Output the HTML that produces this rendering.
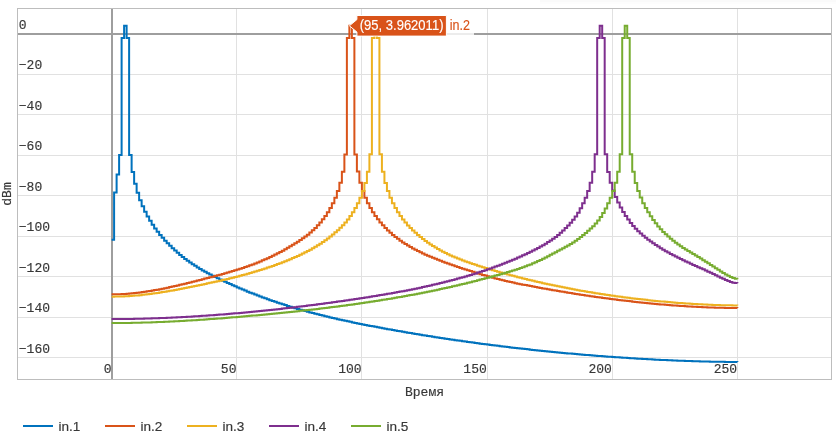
<!DOCTYPE html>
<html lang="ru">
<head>
<meta charset="utf-8">
<title>dBm</title>
<style>
html,body{margin:0;padding:0;background:#fff;}
body{width:836px;height:436px;overflow:hidden;}
svg{display:block;}
.tick{font-family:"Liberation Mono", "DejaVu Sans Mono", monospace;font-size:13px;fill:#383838;stroke:#383838;stroke-width:0.16px;}
.leg{font-family:"Liberation Sans", "DejaVu Sans", sans-serif;font-size:13.6px;fill:#383838;}
.leg text{stroke:#383838;stroke-width:0.16px;}
.hov{font-family:"Liberation Sans", "DejaVu Sans", sans-serif;font-size:14.4px;}
.hov text{stroke-width:0.15px;}
</style>
</head>
<body>
<svg width="836" height="436" viewBox="0 0 836 436">
<rect x="0" y="0" width="836" height="436" fill="#fff"/>
<rect x="540" y="0" width="296" height="2" fill="#fafafa"/>
<rect x="540" y="2" width="296" height="2" fill="#fdfdfd"/>
<g shape-rendering="crispEdges" stroke="#e1e1e1" stroke-width="1" fill="none">
<path d="M236.5,8.5V379.5"/>
<path d="M361.5,8.5V379.5"/>
<path d="M487.5,8.5V379.5"/>
<path d="M612.5,8.5V379.5"/>
<path d="M737.5,8.5V379.5"/>
<path d="M17.5,74.5H831.5"/>
<path d="M17.5,114.5H831.5"/>
<path d="M17.5,155.5H831.5"/>
<path d="M17.5,195.5H831.5"/>
<path d="M17.5,236.5H831.5"/>
<path d="M17.5,276.5H831.5"/>
<path d="M17.5,317.5H831.5"/>
<path d="M17.5,357.5H831.5"/>
</g>
<g shape-rendering="crispEdges" stroke="#9e9e9e" stroke-width="2" fill="none">
<path d="M112,8.5V379.5"/>
<path d="M17.5,34H831.5"/>
</g>
<rect x="17.5" y="8.5" width="814" height="371" fill="none" stroke="#bdbdbd" stroke-width="1" shape-rendering="crispEdges"/>
<g fill="none" stroke-width="2" stroke-linejoin="miter" stroke-linecap="butt">
<path stroke="#0072BD" d="M111.6,239.8H114.1V192.5H116.61V174.6H119.11V154.88H121.61V38H124.11V25.68H126.62V38H129.12V154.98H131.62V172.09H134.13V183.84H136.63V192.84H139.13V200.16H141.64V206.36H144.14V211.75H146.64V216.54H149.14V220.86H151.65V224.79H154.15V228.42H156.65V231.78H159.16V234.92H161.66V237.87H164.16V240.66H166.67V243.32H169.17V245.86H171.67V248.28H174.18V250.59H176.68V252.81H179.18V254.93H181.68V256.96H184.19V258.9H186.69V260.76H189.19V262.53H191.7V264.23H194.2V265.86H196.7V267.43H199.2V268.94H201.71V270.39H204.21V271.8H206.71V273.16H209.22V274.49H211.72V275.77H214.22V277.03H216.73V278.26H219.23V279.47H221.73V280.66H224.24V281.83H226.74V282.98H229.24V284.12H231.74V285.24H234.25V286.35H236.75V287.44H239.25V288.51H241.76V289.56H244.26V290.6H246.76V291.63H249.27V292.63H251.77V293.62H254.27V294.6H256.77V295.56H259.28V296.5H261.78V297.43H264.28V298.35H266.79V299.24H269.29V300.13H271.79V300.99H274.29V301.85H276.8V302.69H279.3V303.51H281.8V304.32H284.31V305.12H286.81V305.9H289.31V306.67H291.82V307.43H294.32V308.17H296.82V308.91H299.33V309.63H301.83V310.33H304.33V311.03H306.83V311.72H309.34V312.39H311.84V313.05H314.34V313.71H316.85V314.35H319.35V314.98H321.85V315.6H324.36V316.22H326.86V316.82H329.36V317.41H331.86V318H334.37V318.58H336.87V319.14H339.37V319.71H341.88V320.26H344.38V320.8H346.88V321.34H349.38V321.87H351.89V322.39H354.39V322.91H356.89V323.42H359.4V323.93H361.9V324.43H364.4V324.92H366.91V325.41H369.41V325.89H371.91V326.37H374.41V326.84H376.92V327.31H379.42V327.78H381.92V328.24H384.43V328.7H386.93V329.15H389.43V329.6H391.94V330.05H394.44V330.49H396.94V330.93H399.45V331.37H401.95V331.8H404.45V332.23H406.95V332.66H409.46V333.09H411.96V333.51H414.46V333.92H416.97V334.34H419.47V334.75H421.97V335.16H424.48V335.56H426.98V335.96H429.48V336.36H431.98V336.75H434.49V337.14H436.99V337.53H439.49V337.91H442V338.3H444.5V338.67H447V339.05H449.5V339.42H452.01V339.79H454.51V340.15H457.01V340.51H459.52V340.87H462.02V341.23H464.52V341.58H467.03V341.93H469.53V342.27H472.03V342.62H474.53V342.96H477.04V343.29H479.54V343.63H482.04V343.96H484.55V344.28H487.05V344.61H489.55V344.93H492.06V345.25H494.56V345.56H497.06V345.87H499.57V346.18H502.07V346.49H504.57V346.79H507.07V347.09H509.58V347.38H512.08V347.68H514.58V347.97H517.09V348.25H519.59V348.54H522.09V348.82H524.6V349.1H527.1V349.37H529.6V349.65H532.1V349.91H534.61V350.18H537.11V350.44H539.61V350.7H542.12V350.96H544.62V351.22H547.12V351.47H549.62V351.72H552.13V351.96H554.63V352.21H557.13V352.45H559.64V352.68H562.14V352.92H564.64V353.15H567.15V353.38H569.65V353.6H572.15V353.83H574.65V354.05H577.16V354.26H579.66V354.48H582.16V354.69H584.67V354.9H587.17V355.11H589.67V355.31H592.18V355.51H594.68V355.71H597.18V355.9H599.69V356.09H602.19V356.28H604.69V356.47H607.19V356.65H609.7V356.84H612.2V357.01H614.7V357.19H617.21V357.36H619.71V357.53H622.21V357.7H624.72V357.87H627.22V358.03H629.72V358.19H632.22V358.35H634.73V358.5H637.23V358.65H639.73V358.8H642.24V358.95H644.74V359.09H647.24V359.23H649.75V359.36H652.25V359.5H654.75V359.63H657.25V359.76H659.76V359.88H662.26V360H664.76V360.12H667.27V360.23H669.77V360.35H672.27V360.45H674.78V360.56H677.28V360.66H679.78V360.76H682.28V360.85H684.79V360.94H687.29V361.03H689.79V361.11H692.3V361.19H694.8V361.27H697.3V361.34H699.81V361.41H702.31V361.47H704.81V361.53H707.31V361.59H709.82V361.64H712.32V361.69H714.82V361.74H717.33V361.78H719.83V361.82H722.33V361.85H724.84V361.88H727.34V361.9H729.84V361.92H732.34V361.94H734.85V361.95H737.35V361.96"/>
<path stroke="#D95319" d="M111.6,294.28H114.1V294.27H116.61V294.22H119.11V294.14H121.61V294.03H124.11V293.89H126.62V293.72H129.12V293.52H131.62V293.29H134.13V293.03H136.63V292.75H139.13V292.44H141.64V292.11H144.14V291.75H146.64V291.37H149.14V290.97H151.65V290.55H154.15V290.11H156.65V289.65H159.16V289.17H161.66V288.68H164.16V288.17H166.67V287.64H169.17V287.11H171.67V286.55H174.18V285.99H176.68V285.41H179.18V284.83H181.68V284.23H184.19V283.63H186.69V283.02H189.19V282.4H191.7V281.78H194.2V281.15H196.7V280.52H199.2V279.88H201.71V279.25H204.21V278.61H206.71V277.97H209.22V277.33H211.72V276.67H214.22V276.02H216.73V275.35H219.23V274.67H221.73V273.99H224.24V273.29H226.74V272.57H229.24V271.84H231.74V271.1H234.25V270.34H236.75V269.55H239.25V268.75H241.76V267.92H244.26V267.07H246.76V266.2H249.27V265.3H251.77V264.38H254.27V263.42H256.77V262.43H259.28V261.42H261.78V260.37H264.28V259.28H266.79V258.16H269.29V257.01H271.79V255.81H274.29V254.58H276.8V253.31H279.3V251.99H281.8V250.63H284.31V249.22H286.81V247.78H289.31V246.3H291.82V244.8H294.32V243.26H296.82V241.68H299.33V240.04H301.83V238.34H304.33V236.54H306.83V234.63H309.34V232.57H311.84V230.34H314.34V227.91H316.85V225.29H319.35V222.45H321.85V219.35H324.36V215.96H326.86V212.2H329.36V208H331.86V203.24H334.37V197.73H336.87V191.12H339.37V182.84H341.88V171.63H344.38V154.39H346.88V38H349.38V25.68H351.89V38H354.39V154.44H356.89V171.56H359.4V182.79H361.9V191.12H364.4V197.75H366.91V203.29H369.41V208.04H371.91V212.23H374.41V215.98H376.92V219.37H379.42V222.47H381.92V225.32H384.43V227.96H386.93V230.43H389.43V232.74H391.94V234.91H394.44V236.95H396.94V238.87H399.45V240.68H401.95V242.41H404.45V244.04H406.95V245.59H409.46V247.07H411.96V248.47H414.46V249.81H416.97V251.1H419.47V252.33H421.97V253.51H424.48V254.64H426.98V255.74H429.48V256.8H431.98V257.83H434.49V258.84H436.99V259.83H439.49V260.8H442V261.74H444.5V262.67H447V263.58H449.5V264.47H452.01V265.34H454.51V266.2H457.01V267.05H459.52V267.88H462.02V268.7H464.52V269.5H467.03V270.3H469.53V271.08H472.03V271.86H474.53V272.63H477.04V273.38H479.54V274.14H482.04V274.88H484.55V275.62H487.05V276.34H489.55V277.06H492.06V277.75H494.56V278.44H497.06V279.1H499.57V279.74H502.07V280.36H504.57V280.95H507.07V281.53H509.58V282.08H512.08V282.62H514.58V283.14H517.09V283.65H519.59V284.14H522.09V284.63H524.6V285.12H527.1V285.59H529.6V286.07H532.1V286.54H534.61V287H537.11V287.47H539.61V287.92H542.12V288.38H544.62V288.83H547.12V289.27H549.62V289.71H552.13V290.15H554.63V290.58H557.13V291.01H559.64V291.43H562.14V291.85H564.64V292.27H567.15V292.68H569.65V293.08H572.15V293.48H574.65V293.88H577.16V294.27H579.66V294.66H582.16V295.04H584.67V295.42H587.17V295.79H589.67V296.16H592.18V296.52H594.68V296.88H597.18V297.23H599.69V297.58H602.19V297.93H604.69V298.27H607.19V298.6H609.7V298.93H612.2V299.25H614.7V299.57H617.21V299.88H619.71V300.19H622.21V300.5H624.72V300.79H627.22V301.09H629.72V301.37H632.22V301.66H634.73V301.93H637.23V302.21H639.73V302.47H642.24V302.73H644.74V302.99H647.24V303.24H649.75V303.48H652.25V303.72H654.75V303.95H657.25V304.18H659.76V304.4H662.26V304.61H664.76V304.82H667.27V305.02H669.77V305.22H672.27V305.41H674.78V305.59H677.28V305.77H679.78V305.94H682.28V306.11H684.79V306.27H687.29V306.42H689.79V306.57H692.3V306.71H694.8V306.84H697.3V306.97H699.81V307.09H702.31V307.2H704.81V307.3H707.31V307.4H709.82V307.49H712.32V307.58H714.82V307.66H717.33V307.73H719.83V307.79H722.33V307.85H724.84V307.9H727.34V307.94H729.84V307.97H732.34V308H734.85V308.02H737.35V308.03"/>
<path stroke="#EDB120" d="M111.6,296.64H114.1V296.62H116.61V296.58H119.11V296.52H121.61V296.43H124.11V296.31H126.62V296.17H129.12V296.01H131.62V295.82H134.13V295.61H136.63V295.39H139.13V295.14H141.64V294.87H144.14V294.58H146.64V294.28H149.14V293.95H151.65V293.61H154.15V293.26H156.65V292.89H159.16V292.5H161.66V292.1H164.16V291.69H166.67V291.26H169.17V290.83H171.67V290.38H174.18V289.92H176.68V289.46H179.18V288.98H181.68V288.5H184.19V288.01H186.69V287.51H189.19V287.01H191.7V286.5H194.2V285.99H196.7V285.47H199.2V284.95H201.71V284.43H204.21V283.9H206.71V283.37H209.22V282.84H211.72V282.29H214.22V281.75H216.73V281.19H219.23V280.63H221.73V280.05H224.24V279.47H226.74V278.88H229.24V278.28H231.74V277.67H234.25V277.05H236.75V276.41H239.25V275.76H241.76V275.1H244.26V274.43H246.76V273.73H249.27V273.03H251.77V272.31H254.27V271.57H256.77V270.82H259.28V270.04H261.78V269.25H264.28V268.44H266.79V267.61H269.29V266.76H271.79V265.89H274.29V265H276.8V264.09H279.3V263.15H281.8V262.19H284.31V261.21H286.81V260.2H289.31V259.17H291.82V258.11H294.32V257.02H296.82V255.91H299.33V254.76H301.83V253.57H304.33V252.34H306.83V251.06H309.34V249.72H311.84V248.32H314.34V246.85H316.85V245.31H319.35V243.7H321.85V242.01H324.36V240.24H326.86V238.4H329.36V236.47H331.86V234.47H334.37V232.36H336.87V230.14H339.37V227.77H341.88V225.22H344.38V222.43H346.88V219.38H349.38V216H351.89V212.22H354.39V207.97H356.89V203.15H359.4V197.63H361.9V191.07H364.4V182.88H366.91V171.77H369.41V154.33H371.91V38H374.41V25.68H376.92V38H379.42V154.32H381.92V171.78H384.43V182.88H386.93V191.06H389.43V197.63H391.94V203.17H394.44V207.97H396.94V212.2H399.45V215.97H401.95V219.39H404.45V222.51H406.95V225.39H409.46V228.05H411.96V230.54H414.46V232.86H416.97V235.05H419.47V237.11H421.97V239.06H424.48V240.92H426.98V242.69H429.48V244.38H431.98V245.99H434.49V247.53H436.99V249H439.49V250.4H442V251.73H444.5V253.01H447V254.22H449.5V255.38H452.01V256.49H454.51V257.56H457.01V258.58H459.52V259.57H462.02V260.51H464.52V261.43H467.03V262.32H469.53V263.19H472.03V264.03H474.53V264.86H477.04V265.68H479.54V266.48H482.04V267.27H484.55V268.04H487.05V268.8H489.55V269.55H492.06V270.29H494.56V271.02H497.06V271.73H499.57V272.44H502.07V273.14H504.57V273.83H507.07V274.51H509.58V275.18H512.08V275.84H514.58V276.5H517.09V277.14H519.59V277.78H522.09V278.41H524.6V279.03H527.1V279.64H529.6V280.25H532.1V280.84H534.61V281.43H537.11V282.01H539.61V282.58H542.12V283.14H544.62V283.7H547.12V284.25H549.62V284.78H552.13V285.32H554.63V285.84H557.13V286.35H559.64V286.86H562.14V287.36H564.64V287.85H567.15V288.34H569.65V288.82H572.15V289.29H574.65V289.75H577.16V290.2H579.66V290.65H582.16V291.09H584.67V291.53H587.17V291.95H589.67V292.37H592.18V292.78H594.68V293.19H597.18V293.58H599.69V293.97H602.19V294.36H604.69V294.74H607.19V295.11H609.7V295.47H612.2V295.83H614.7V296.18H617.21V296.52H619.71V296.86H622.21V297.19H624.72V297.51H627.22V297.83H629.72V298.14H632.22V298.44H634.73V298.74H637.23V299.03H639.73V299.32H642.24V299.6H644.74V299.87H647.24V300.14H649.75V300.4H652.25V300.66H654.75V300.91H657.25V301.15H659.76V301.39H662.26V301.62H664.76V301.85H667.27V302.07H669.77V302.28H672.27V302.49H674.78V302.69H677.28V302.89H679.78V303.08H682.28V303.26H684.79V303.43H687.29V303.6H689.79V303.76H692.3V303.92H694.8V304.07H697.3V304.21H699.81V304.34H702.31V304.47H704.81V304.59H707.31V304.7H709.82V304.8H712.32V304.9H714.82V304.99H717.33V305.07H719.83V305.15H722.33V305.21H724.84V305.27H727.34V305.32H729.84V305.36H732.34V305.4H734.85V305.42H737.35V305.44"/>
<path stroke="#7E2F8E" d="M111.6,319.08H114.1V319.07H116.61V319.06H119.11V319.04H121.61V319.02H124.11V318.99H126.62V318.96H129.12V318.92H131.62V318.88H134.13V318.83H136.63V318.78H139.13V318.73H141.64V318.66H144.14V318.6H146.64V318.53H149.14V318.45H151.65V318.37H154.15V318.29H156.65V318.2H159.16V318.11H161.66V318.01H164.16V317.91H166.67V317.8H169.17V317.69H171.67V317.57H174.18V317.45H176.68V317.33H179.18V317.2H181.68V317.07H184.19V316.93H186.69V316.79H189.19V316.64H191.7V316.49H194.2V316.34H196.7V316.18H199.2V316.02H201.71V315.85H204.21V315.68H206.71V315.51H209.22V315.33H211.72V315.15H214.22V314.97H216.73V314.78H219.23V314.58H221.73V314.39H224.24V314.18H226.74V313.98H229.24V313.77H231.74V313.56H234.25V313.34H236.75V313.13H239.25V312.9H241.76V312.68H244.26V312.45H246.76V312.21H249.27V311.98H251.77V311.74H254.27V311.49H256.77V311.25H259.28V311H261.78V310.74H264.28V310.49H266.79V310.23H269.29V309.96H271.79V309.7H274.29V309.43H276.8V309.15H279.3V308.88H281.8V308.6H284.31V308.32H286.81V308.03H289.31V307.74H291.82V307.45H294.32V307.15H296.82V306.85H299.33V306.55H301.83V306.25H304.33V305.94H306.83V305.62H309.34V305.31H311.84V304.99H314.34V304.67H316.85V304.34H319.35V304.02H321.85V303.68H324.36V303.35H326.86V303.01H329.36V302.67H331.86V302.32H334.37V301.98H336.87V301.62H339.37V301.27H341.88V300.91H344.38V300.55H346.88V300.18H349.38V299.82H351.89V299.45H354.39V299.07H356.89V298.69H359.4V298.31H361.9V297.93H364.4V297.54H366.91V297.15H369.41V296.75H371.91V296.35H374.41V295.95H376.92V295.54H379.42V295.12H381.92V294.7H384.43V294.28H386.93V293.85H389.43V293.41H391.94V292.97H394.44V292.52H396.94V292.07H399.45V291.6H401.95V291.13H404.45V290.66H406.95V290.17H409.46V289.68H411.96V289.18H414.46V288.68H416.97V288.16H419.47V287.63H421.97V287.1H424.48V286.56H426.98V286.01H429.48V285.44H431.98V284.87H434.49V284.29H436.99V283.7H439.49V283.09H442V282.48H444.5V281.86H447V281.22H449.5V280.57H452.01V279.91H454.51V279.24H457.01V278.56H459.52V277.86H462.02V277.15H464.52V276.43H467.03V275.69H469.53V274.95H472.03V274.18H474.53V273.4H477.04V272.61H479.54V271.8H482.04V270.98H484.55V270.14H487.05V269.28H489.55V268.41H492.06V267.52H494.56V266.61H497.06V265.68H499.57V264.74H502.07V263.78H504.57V262.79H507.07V261.79H509.58V260.77H512.08V259.73H514.58V258.67H517.09V257.58H519.59V256.48H522.09V255.35H524.6V254.21H527.1V253.04H529.6V251.84H532.1V250.6H534.61V249.33H537.11V248H539.61V246.62H542.12V245.18H544.62V243.69H547.12V242.12H549.62V240.47H552.13V238.73H554.63V236.88H557.13V234.89H559.64V232.76H562.14V230.48H564.64V228.06H567.15V225.51H569.65V222.79H572.15V219.83H574.65V216.54H577.16V212.75H579.66V208.36H582.16V203.34H584.67V197.63H587.17V190.99H589.67V182.84H592.18V171.85H594.68V154.31H597.18V38H599.69V25.68H602.19V38H604.69V154.29H607.19V171.95H609.7V182.77H612.2V190.62H614.7V197.01H617.21V202.6H619.71V207.55H622.21V211.99H624.72V216H627.22V219.62H629.72V222.92H632.22V225.94H634.73V228.71H637.23V231.26H639.73V233.61H642.24V235.77H644.74V237.8H647.24V239.7H649.75V241.52H652.25V243.27H654.75V244.96H657.25V246.59H659.76V248.17H662.26V249.7H664.76V251.17H667.27V252.59H669.77V253.96H672.27V255.3H674.78V256.59H677.28V257.85H679.78V259.08H682.28V260.28H684.79V261.46H687.29V262.62H689.79V263.76H692.3V264.89H694.8V266.02H697.3V267.13H699.81V268.25H702.31V269.37H704.81V270.5H707.31V271.64H709.82V272.79H712.32V273.96H714.82V275.16H717.33V276.38H719.83V277.63H722.33V278.86H724.84V280.03H727.34V281.08H729.84V281.97H732.34V282.65H734.85V283.06H737.35V283.13"/>
<path stroke="#77AC30" d="M111.6,323.08H114.1V323.07H116.61V323.05H119.11V323.03H121.61V323.01H124.11V322.97H126.62V322.94H129.12V322.89H131.62V322.85H134.13V322.8H136.63V322.74H139.13V322.67H141.64V322.61H144.14V322.53H146.64V322.46H149.14V322.38H151.65V322.29H154.15V322.2H156.65V322.1H159.16V322H161.66V321.9H164.16V321.79H166.67V321.67H169.17V321.55H171.67V321.43H174.18V321.3H176.68V321.17H179.18V321.04H181.68V320.9H184.19V320.76H186.69V320.61H189.19V320.46H191.7V320.31H194.2V320.15H196.7V319.99H199.2V319.82H201.71V319.65H204.21V319.48H206.71V319.3H209.22V319.12H211.72V318.94H214.22V318.76H216.73V318.57H219.23V318.38H221.73V318.18H224.24V317.98H226.74V317.78H229.24V317.58H231.74V317.37H234.25V317.16H236.75V316.95H239.25V316.73H241.76V316.52H244.26V316.3H246.76V316.07H249.27V315.85H251.77V315.62H254.27V315.39H256.77V315.16H259.28V314.92H261.78V314.69H264.28V314.45H266.79V314.21H269.29V313.97H271.79V313.72H274.29V313.48H276.8V313.23H279.3V312.98H281.8V312.72H284.31V312.47H286.81V312.21H289.31V311.95H291.82V311.68H294.32V311.41H296.82V311.15H299.33V310.87H301.83V310.6H304.33V310.32H306.83V310.04H309.34V309.75H311.84V309.47H314.34V309.18H316.85V308.88H319.35V308.58H321.85V308.28H324.36V307.98H326.86V307.67H329.36V307.36H331.86V307.05H334.37V306.73H336.87V306.4H339.37V306.08H341.88V305.75H344.38V305.41H346.88V305.07H349.38V304.73H351.89V304.39H354.39V304.03H356.89V303.68H359.4V303.32H361.9V302.95H364.4V302.59H366.91V302.21H369.41V301.83H371.91V301.45H374.41V301.06H376.92V300.67H379.42V300.28H381.92V299.87H384.43V299.47H386.93V299.05H389.43V298.64H391.94V298.21H394.44V297.79H396.94V297.35H399.45V296.91H401.95V296.47H404.45V296.02H406.95V295.56H409.46V295.1H411.96V294.63H414.46V294.16H416.97V293.68H419.47V293.2H421.97V292.71H424.48V292.21H426.98V291.71H429.48V291.2H431.98V290.68H434.49V290.16H436.99V289.63H439.49V289.1H442V288.56H444.5V288.01H447V287.46H449.5V286.9H452.01V286.33H454.51V285.75H457.01V285.17H459.52V284.58H462.02V283.99H464.52V283.39H467.03V282.78H469.53V282.16H472.03V281.53H474.53V280.9H477.04V280.26H479.54V279.62H482.04V278.96H484.55V278.3H487.05V277.63H489.55V276.96H492.06V276.28H494.56V275.59H497.06V274.89H499.57V274.19H502.07V273.47H504.57V272.76H507.07V272.03H509.58V271.28H512.08V270.52H514.58V269.74H517.09V268.93H519.59V268.09H522.09V267.22H524.6V266.31H527.1V265.37H529.6V264.38H532.1V263.34H534.61V262.26H537.11V261.12H539.61V259.93H542.12V258.7H544.62V257.44H547.12V256.15H549.62V254.84H552.13V253.51H554.63V252.17H557.13V250.82H559.64V249.49H562.14V248.15H564.64V246.79H567.15V245.4H569.65V243.94H572.15V242.4H574.65V240.74H577.16V238.96H579.66V237.07H582.16V235.06H584.67V232.95H587.17V230.78H589.67V228.56H592.18V226.22H594.68V223.58H597.18V220.52H599.69V216.98H602.19V212.94H604.69V208.4H607.19V203.34H609.7V197.63H612.2V190.98H614.7V182.83H617.21V171.86H619.71V154.31H622.21V38H624.72V25.68H627.22V38H629.72V154.32H632.22V171.8H634.73V182.88H637.23V191.05H639.73V197.6H642.24V203.14H644.74V208H647.24V212.37H649.75V216.36H652.25V220.01H654.75V223.37H657.25V226.45H659.76V229.29H662.26V231.9H664.76V234.33H667.27V236.6H669.77V238.74H672.27V240.77H674.78V242.7H677.28V244.53H679.78V246.26H682.28V247.9H684.79V249.47H687.29V250.99H689.79V252.5H692.3V254.01H694.8V255.53H697.3V257.06H699.81V258.6H702.31V260.16H704.81V261.74H707.31V263.33H709.82V264.95H712.32V266.59H714.82V268.24H717.33V269.87H719.83V271.46H722.33V272.99H724.84V274.43H727.34V275.77H729.84V276.97H732.34V278.01H734.85V278.83H737.35V279.23"/>
</g>
<g class="tick">
<text x="18.8" y="28.7">0</text>
<text x="18.8" y="69.2">−20</text>
<text x="18.8" y="109.7">−40</text>
<text x="18.8" y="150.2">−60</text>
<text x="18.8" y="190.7">−80</text>
<text x="18.8" y="231.2">−100</text>
<text x="18.8" y="271.7">−120</text>
<text x="18.8" y="312.2">−140</text>
<text x="18.8" y="352.7">−160</text>
<text x="111.5" y="373" text-anchor="end">0</text>
<text x="236.45" y="373" text-anchor="end">50</text>
<text x="361.6" y="373" text-anchor="end">100</text>
<text x="486.75" y="373" text-anchor="end">150</text>
<text x="611.9" y="373" text-anchor="end">200</text>
<text x="737.05" y="373" text-anchor="end">250</text>
<text x="424.5" y="396" text-anchor="middle">Время</text>
<text transform="translate(11,194) rotate(-90)" text-anchor="middle">dBm</text>
</g>
<g class="hov">
<rect x="446" y="16" width="28" height="20" fill="#fff" fill-opacity="0.8"/>
<path d="M349.4,25.8L356.9,19.6V15.5H446.4V36.1H356.9V32Z" fill="#D95319" stroke="#fff" stroke-width="1"/>
<text x="359.7" y="30.3" fill="#fff" stroke="#fff" textLength="83.8" lengthAdjust="spacingAndGlyphs">(95, 3.962011)</text>
<text x="449.7" y="30.3" fill="#D95319" stroke="#D95319" textLength="20.2" lengthAdjust="spacingAndGlyphs">in.2</text>
</g>
<g class="leg">
<path d="M23,426H53" stroke="#0072BD" stroke-width="2" fill="none"/>
<text x="58.5" y="430.8">in.1</text>
<path d="M105,426H135" stroke="#D95319" stroke-width="2" fill="none"/>
<text x="140.5" y="430.8">in.2</text>
<path d="M187,426H217" stroke="#EDB120" stroke-width="2" fill="none"/>
<text x="222.5" y="430.8">in.3</text>
<path d="M269,426H299" stroke="#7E2F8E" stroke-width="2" fill="none"/>
<text x="304.5" y="430.8">in.4</text>
<path d="M351,426H381" stroke="#77AC30" stroke-width="2" fill="none"/>
<text x="386.5" y="430.8">in.5</text>
</g>
</svg>
</body>
</html>
